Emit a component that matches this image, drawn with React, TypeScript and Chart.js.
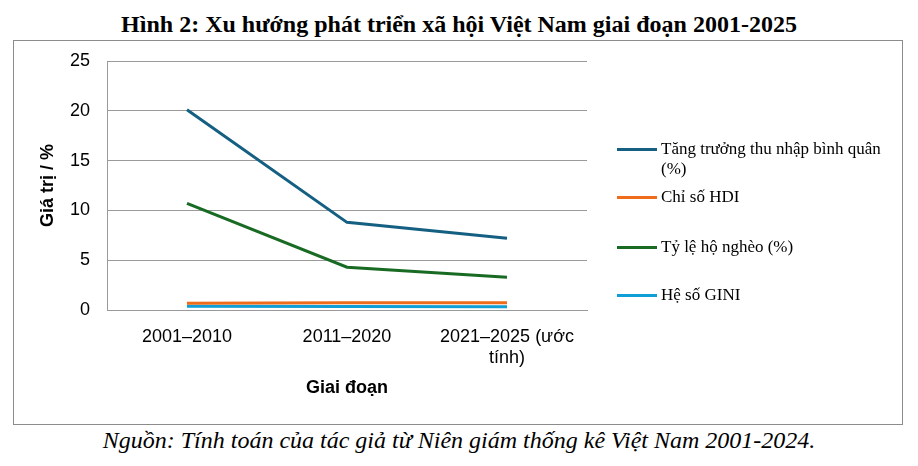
import React, { useEffect, useRef } from "react";
import { Chart, registerables } from "chart.js";

Chart.register(...registerables);

const titleText = "Hình 2: Xu hướng phát triển xã hội Việt Nam giai đoạn 2001-2025";
const sourceText = "Nguồn: Tính toán của tác giả từ Niên giám thống kê Việt Nam 2001-2024.";
const categories: (string | string[])[] = ["2001–2010", "2011–2020", ["2021–2025 (ước", "tính)"]];
const seriesNames = ["Tăng trưởng thu nhập bình quân (%)", "Chỉ số HDI", "Tỷ lệ hộ nghèo (%)", "Hệ số GINI"];
const legendLines: string[][] = [["Tăng trưởng thu nhập bình quân", "(%)"], ["Chỉ số HDI"], ["Tỷ lệ hộ nghèo (%)"], ["Hệ số GINI"]];
const incomeGrowth = [20.1, 8.8, 7.2];
const hdi = [0.68, 0.72, 0.74];
const poverty = [10.7, 4.3, 3.3];
const gini = [0.37, 0.36, 0.33];
const colors = ["#156082", "#EE6C1A", "#196B24", "#0F9ED5"];
const yTicks = [0, 5, 10, 15, 20, 25];

const sans = "'Liberation Sans', Arial, sans-serif";
const serif = "'Liberation Serif', 'Times New Roman', serif";

export default function App() {
  const ref = useRef<HTMLCanvasElement | null>(null);
  useEffect(() => {
    if (!ref.current) return;
    const values = [incomeGrowth, hdi, poverty, gini];
    const chart = new Chart(ref.current, {
      type: "line",
      data: {
        labels: categories,
        datasets: values.map((v, i) => ({
          label: seriesNames[i],
          data: v,
          borderColor: colors[i],
          backgroundColor: colors[i],
          borderWidth: 3,
          pointRadius: 0,
          tension: 0,
          fill: false,
        })),
      },
      options: {
        animation: false,
        responsive: false,
        layout: { padding: { left: 0, right: 315, top: 20, bottom: 0 } },
        plugins: { legend: { display: false }, tooltip: { enabled: false } },
        scales: {
          x: {
            offset: true,
            grid: { display: false, drawTicks: false },
            border: { display: true, color: "#9a9a9a", width: 1 },
            ticks: { color: "#000", font: { family: sans, size: 18 }, padding: 16, maxRotation: 0, autoSkip: false },
            title: { display: true, text: "Giai đoạn", color: "#000", font: { family: sans, size: 18, weight: "bold" }, padding: { top: 0, bottom: 25 } },
            afterFit: (s: any) => { s.height = 114; },
          },
          y: {
            min: 0,
            max: 25,
            afterBuildTicks: (s: any) => { s.ticks = yTicks.map((v) => ({ value: v })); },
            grid: { color: "#9a9a9a", lineWidth: 1, drawTicks: true, tickLength: 17, tickColor: "rgba(0,0,0,0)" },
            border: { display: true, color: "#9a9a9a", width: 1 },
            ticks: { color: "#000", font: { family: sans, size: 18 }, padding: 0 },
            title: { display: true, text: "Giá trị / %", color: "#000", font: { family: sans, size: 18, weight: "bold" }, padding: { top: 23, bottom: 0 } },
            afterFit: (s: any) => { s.width = 93; },
          },
        },
      },
    });
    return () => chart.destroy();
  }, []);

  const legendTops = [139, 187, 237, 285];

  return (
    <div style={{ position: "absolute", left: 0, top: 0, width: 918, height: 466, background: "#fff" }}>
      <div style={{ position: "absolute", left: 0, top: 10, width: 918, textAlign: "center", fontFamily: serif, fontWeight: "bold", fontSize: 24, lineHeight: "28px", color: "#000" }}>
        {titleText}
      </div>
      <div style={{ position: "absolute", left: 13, top: 40, width: 888, height: 383, border: "1px solid #8c8c8c" }}>
        <canvas ref={ref} width={888} height={383} style={{ display: "block" }} />
      </div>
      {legendLines.map((lines, i) => (
        <div key={i} style={{ position: "absolute", left: 617, top: legendTops[i] }}>
          <div style={{ position: "absolute", left: 0, top: 9, width: 40, height: 3, background: colors[i] }} />
          <div style={{ position: "absolute", left: 44, top: 0, whiteSpace: "nowrap", fontFamily: serif, fontSize: 17, lineHeight: "20px", color: "#000" }}>
            {lines.map((l, j) => (
              <div key={j}>{l}</div>
            ))}
          </div>
        </div>
      ))}
      <div style={{ position: "absolute", left: 0, top: 426, width: 918, textAlign: "center", fontFamily: serif, fontStyle: "italic", fontSize: 24, lineHeight: "28px", color: "#000" }}>
        {sourceText}
      </div>
    </div>
  );
}
